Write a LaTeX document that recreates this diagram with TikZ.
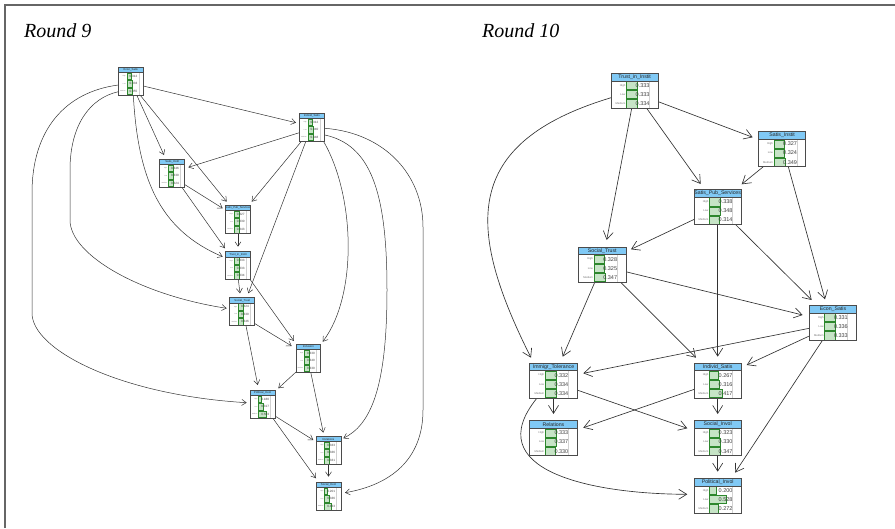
\documentclass[tikz,border=0pt]{standalone}
\usepackage{fontspec}
\setmainfont{Liberation Serif}
\newfontfamily\bnfont{Liberation Sans}
\usetikzlibrary{arrows.meta}

\definecolor{bntitle}{RGB}{128,201,245}
\definecolor{bnbarfill}{RGB}{198,228,198}
\definecolor{bnbarline}{RGB}{45,135,45}
\definecolor{bnframe}{RGB}{75,75,75}
\definecolor{edgegray}{RGB}{50,50,50}

\pgfdeclarelayer{edges}
\pgfsetlayers{edges,main}

\tikzset{
  bnbox/.style={rectangle, inner sep=0pt, outer sep=0pt, fill=white},
  edgenine/.style={draw=edgegray, line width=0.5pt, -{Straight Barb[length=4.5pt,width=6pt]}},
  edgeten/.style={draw=edgegray, line width=0.65pt, -{Straight Barb[length=8pt,width=10pt]}},
  roundlabel/.style={anchor=base west, inner sep=0pt, font=\itshape\fontsize{20}{24}\selectfont},
}

% geometry of the two node sizes
\newcommand\bnsizesmall{\def\bnW{24.8}\def\bnH{27.8}\def\bnT{5.2}\def\bnL{8.3}%
  \def\bnS{15}\def\bnV{11}\def\bnG{20.3}\def\bnTF{2.8}\def\bnVF{3.1}\def\bnLF{1.5}\def\bnFW{0.75}}
\newcommand\bnsizelarge{\def\bnW{47.4}\def\bnH{35}\def\bnT{7.6}\def\bnL{15.3}%
  \def\bnS{32}\def\bnV{24.5}\def\bnG{38.3}\def\bnTF{5.2}\def\bnVF{5.5}\def\bnLF{2.7}\def\bnFW{0.9}}

% one belief node: name, x, y, title, P(High), P(Low), P(Medium)
\newcommand\bnnode[7]{%
  \node[bnbox, minimum width=\bnW pt, minimum height=\bnH pt] (#1) at (#2,-#3) {};
  \begin{scope}[shift={(#1.north west)}]
    \pgfmathsetmacro\bnR{(\bnH-\bnT)/3}
    \fill[bntitle] (0,0) rectangle (\bnW,-\bnT);
    \node[font=\bnfont\fontsize{\bnTF}{\bnTF}\selectfont, inner sep=0pt, text=black!85]
      at (\bnW/2,-\bnT/2) {#4};
    \draw[black!18, line width=0.3pt] (\bnG,-\bnT) -- (\bnG,-\bnH);
    \foreach \lab/\val [count=\i] in {High/#5, Low/#6, Medium/#7} {
      \pgfmathsetmacro\ytop{-\bnT-(\i-1)*\bnR}
      \pgfmathsetmacro\ybot{\ytop-\bnR}
      \pgfmathsetmacro\ymid{(\ytop+\ybot)/2}
      \filldraw[fill=bnbarfill, draw=bnbarline, line width=0.35pt]
        (\bnL,\ytop-0.5) rectangle ({\bnL+\val*\bnS},\ybot+0.5);
      \node[anchor=east, inner sep=0pt, text=black!55,
            font=\bnfont\fontsize{\bnLF}{\bnLF}\selectfont] at (\bnL-0.8,\ymid) {\lab};
      \node[anchor=west, inner sep=0pt, text=black!75,
            font=\bnfont\fontsize{\bnVF}{\bnVF}\selectfont] at (\bnV,\ymid) {\val};
    }
    \draw[bnframe, line width=0.4pt] (0,-\bnT) -- (\bnW,-\bnT);
    \draw[bnframe, line width=\bnFW pt] (0,0) rectangle (\bnW,-\bnH);
  \end{scope}
}

\begin{document}
\begin{tikzpicture}[x=1pt, y=1pt]
\useasboundingbox (0,0) rectangle (895,-528);

% page frame
\draw[black!60, line width=1.6pt] (5,-528) -- (5,-5) -- (895,-5);

\node[roundlabel] (t9) at (24,-37) {Round 9};
\node[roundlabel] (t10) at (482,-37) {Round 10};

% ---------------- Round 9 ----------------
\bnsizesmall
\bnnode{econ9}{130.8}{81.2}{Econ\_Satis}{0.312}{0.333}{0.355}
\bnnode{indiv9}{311.8}{127.2}{Individ\_Satis}{0.312}{0.340}{0.348}
\bnnode{satins9}{172.2}{173.2}{Satis\_Instit}{0.346}{0.330}{0.324}
\bnnode{sps9}{238}{219.3}{Satis\_Pub\_Services}{0.327}{0.330}{0.343}
\bnnode{trust9}{238}{265.7}{Trust\_in\_Instit}{0.333}{0.333}{0.334}
\bnnode{soctr9}{242.2}{311.7}{Social\_Trust}{0.324}{0.330}{0.346}
\bnnode{incl9}{308.3}{358}{Inclusion}{0.330}{0.340}{0.330}
\bnnode{polinv9}{262.5}{404}{Political\_Invol}{0.180}{0.317}{0.503}
\bnnode{rel9}{328.5}{450.3}{Relations}{0.333}{0.336}{0.331}
\bnnode{socinv9}{328.5}{496.3}{Social\_Invol}{0.201}{0.336}{0.463}

% ---------------- Round 10 ----------------
\bnsizelarge
\bnnode{trust10}{634.7}{90.8}{Trust\_in\_Instit}{0.333}{0.333}{0.334}
\bnnode{satins10}{782.2}{149.2}{Satis\_Instit}{0.327}{0.324}{0.349}
\bnnode{sps10}{717.7}{207}{Satis\_Pub\_Services}{0.338}{0.348}{0.314}
\bnnode{soctr10}{602.3}{264.5}{Social\_Trust}{0.328}{0.325}{0.347}
\bnnode{econ10}{833}{322.8}{Econ\_Satis}{0.331}{0.336}{0.333}
\bnnode{immig10}{553.5}{380.5}{Immigr\_Tolerance}{0.332}{0.334}{0.334}
\bnnode{indiv10}{717.7}{380.5}{Individ\_Satis}{0.267}{0.316}{0.417}
\bnnode{rel10}{553.5}{438.2}{Relations}{0.333}{0.337}{0.330}
\bnnode{socinv10}{717.7}{438.2}{Social\_Invol}{0.323}{0.330}{0.347}
\bnnode{polinv10}{717.7}{495.8}{Political\_Invol}{0.200}{0.528}{0.272}

\begin{pgfonlayer}{edges}
% Round 9 links
\draw[edgenine] ([shift={(12.5,-4.8)}]econ9.center) -- ([shift={(-15.8,4.5)}]indiv9.center);
\draw[edgenine] ([shift={(5.9,-13.8)}]econ9.center) -- ([shift={(-8.2,18.2)}]satins9.center);
\draw[edgenine] ([shift={(9.2,-13.8)}]econ9.center) -- ([shift={(-11.3,17.6)}]sps9.center);
\draw[edgenine] ([shift={(-12.5,-5.5)}]indiv9.center) -- ([shift={(16.1,5.9)}]satins9.center);
\draw[edgenine] ([shift={(-10.1,-13.8)}]indiv9.center) -- ([shift={(13.7,17.6)}]sps9.center);
\draw[edgenine] ([shift={(-5.8,-13.8)}]indiv9.center) -- ([shift={(6.1,18.4)}]soctr9.center);
\draw[edgenine] ([shift={(12.1,-11.1)}]satins9.center) -- ([shift={(-15.3,11)}]sps9.center);
\draw[edgenine] ([shift={(9.5,-13.8)}]satins9.center) -- ([shift={(-13,17.4)}]trust9.center);
\draw[edgenine] ([shift={(0,-14)}]sps9.center) -- ([shift={(0,19)}]trust9.center);
\draw[edgenine] ([shift={(0.3,-13.6)}]trust9.center) -- ([shift={(-2.2,18.4)}]soctr9.center);
\draw[edgenine] ([shift={(12,-13.6)}]trust9.center) -- ([shift={(-14.3,17)}]incl9.center);
\draw[edgenine] ([shift={(12.1,-11.6)}]soctr9.center) -- ([shift={(-16.6,12)}]incl9.center);
\draw[edgenine] ([shift={(3.8,-14)}]soctr9.center) -- ([shift={(-4.8,19)}]polinv9.center);
\draw[edgenine] ([shift={(-12.3,-14)}]incl9.center) -- ([shift={(15.8,15.7)}]polinv9.center);
\draw[edgenine] ([shift={(2.4,-14)}]incl9.center) -- ([shift={(-5.2,17.6)}]rel9.center);
\draw[edgenine] ([shift={(12.5,-12)}]polinv9.center) -- ([shift={(-15.2,10.3)}]rel9.center);
\draw[edgenine] ([shift={(10.2,-14)}]polinv9.center) -- ([shift={(-12.5,18)}]socinv9.center);
\draw[edgenine] ([shift={(0,-13.7)}]rel9.center) -- ([shift={(0,19.6)}]socinv9.center);
\draw[edgenine] ([shift={(2.5,-13.8)}]econ9.center) .. controls (138,-180) and (160,-230) .. ([shift={(-15.3,9)}]trust9.center);
\draw[edgenine] ([shift={(-12.5,-10.5)}]econ9.center) .. controls (90,-98) and (70,-125) .. (70,-170)
  -- (70,-220) .. controls (70,-255) and (140,-295) .. ([shift={(-15.5,3.4)}]soctr9.center);
\draw[edgenine] ([shift={(-12.5,-3.8)}]econ9.center) .. controls (65,-92) and (32,-130) .. (32,-193)
  -- (32,-313) .. controls (32,-350) and (120,-395) .. ([shift={(-15.8,1.3)}]polinv9.center);
\draw[edgenine] ([shift={(11.5,-13.8)}]indiv9.center) .. controls (355,-195) and (358,-295) .. ([shift={(14.4,16.3)}]incl9.center);
\draw[edgenine] ([shift={(13.2,-7.8)}]indiv9.center) .. controls (370,-145) and (387,-190) .. (387,-290)
  .. controls (387,-390) and (370,-425) .. ([shift={(14.8,12)}]rel9.center);
\draw[edgenine] ([shift={(13.2,-1.1)}]indiv9.center) .. controls (385,-133) and (423,-175) .. (423,-227)
  -- (423,-410) .. controls (423,-460) and (390,-485) .. ([shift={(16.5,3.6)}]socinv9.center);

% Round 10 links
\draw[edgeten] ([shift={(23.6,-10.9)}]trust10.center) -- ([shift={(-29.5,11.9)}]satins10.center);
\draw[edgeten] ([shift={(12,-17.5)}]trust10.center) -- ([shift={(-17,23)}]sps10.center);
\draw[edgeten] ([shift={(-3,-17.5)}]trust10.center) -- ([shift={(4.4,24.5)}]soctr10.center);
\draw[edgeten] ([shift={(-23.7,-6.9)}]trust10.center) .. controls (461,-143) and (466,-228) .. ([shift={(-22.5,22.8)}]immig10.center);
\draw[edgeten] ([shift={(-18.9,-17.5)}]satins10.center) -- ([shift={(24,22.7)}]sps10.center);
\draw[edgeten] ([shift={(6.1,-17.5)}]satins10.center) -- ([shift={(-8,23.5)}]econ10.center);
\draw[edgeten] ([shift={(-23.4,-12.3)}]sps10.center) -- ([shift={(28.7,15.2)}]soctr10.center);
\draw[edgeten] ([shift={(17.3,-17)}]sps10.center) -- ([shift={(-21.3,22.8)}]econ10.center);
\draw[edgeten] ([shift={(0,-17)}]sps10.center) -- ([shift={(0,23.8)}]indiv10.center);
\draw[edgeten] ([shift={(23.4,-7.2)}]soctr10.center) -- ([shift={(-30.3,7.8)}]econ10.center);
\draw[edgeten] ([shift={(-7.3,-17.2)}]soctr10.center) -- ([shift={(9.2,23.8)}]immig10.center);
\draw[edgeten] ([shift={(17.7,-17.2)}]soctr10.center) -- ([shift={(-21.7,22.8)}]indiv10.center);
\draw[edgeten] ([shift={(-23.7,-5.5)}]econ10.center) -- ([shift={(29.8,7.2)}]immig10.center);
\draw[edgeten] ([shift={(-23.7,-13.2)}]econ10.center) -- ([shift={(29,15.5)}]indiv10.center);
\draw[edgeten] ([shift={(-10.3,-17.2)}]econ10.center) -- ([shift={(17.3,23.1)}]polinv10.center);
\draw[edgeten] ([shift={(0,-17.2)}]immig10.center) -- ([shift={(0,24.2)}]rel10.center);
\draw[edgeten] ([shift={(23.5,-9.5)}]immig10.center) -- ([shift={(-30.4,9.9)}]socinv10.center);
\draw[edgeten] ([shift={(-23.4,-8.8)}]indiv10.center) -- ([shift={(29.8,10.5)}]rel10.center);
\draw[edgeten] ([shift={(0,-17.2)}]indiv10.center) -- ([shift={(0,24.2)}]socinv10.center);
\draw[edgeten] ([shift={(0,-17.5)}]socinv10.center) -- ([shift={(0,24.1)}]polinv10.center);
\draw[edgeten] ([shift={(-16.2,-17.2)}]immig10.center) .. controls (478,-470) and (590,-494) .. ([shift={(-30.4,1.5)}]polinv10.center);
\end{pgfonlayer}
\end{tikzpicture}
\end{document}
